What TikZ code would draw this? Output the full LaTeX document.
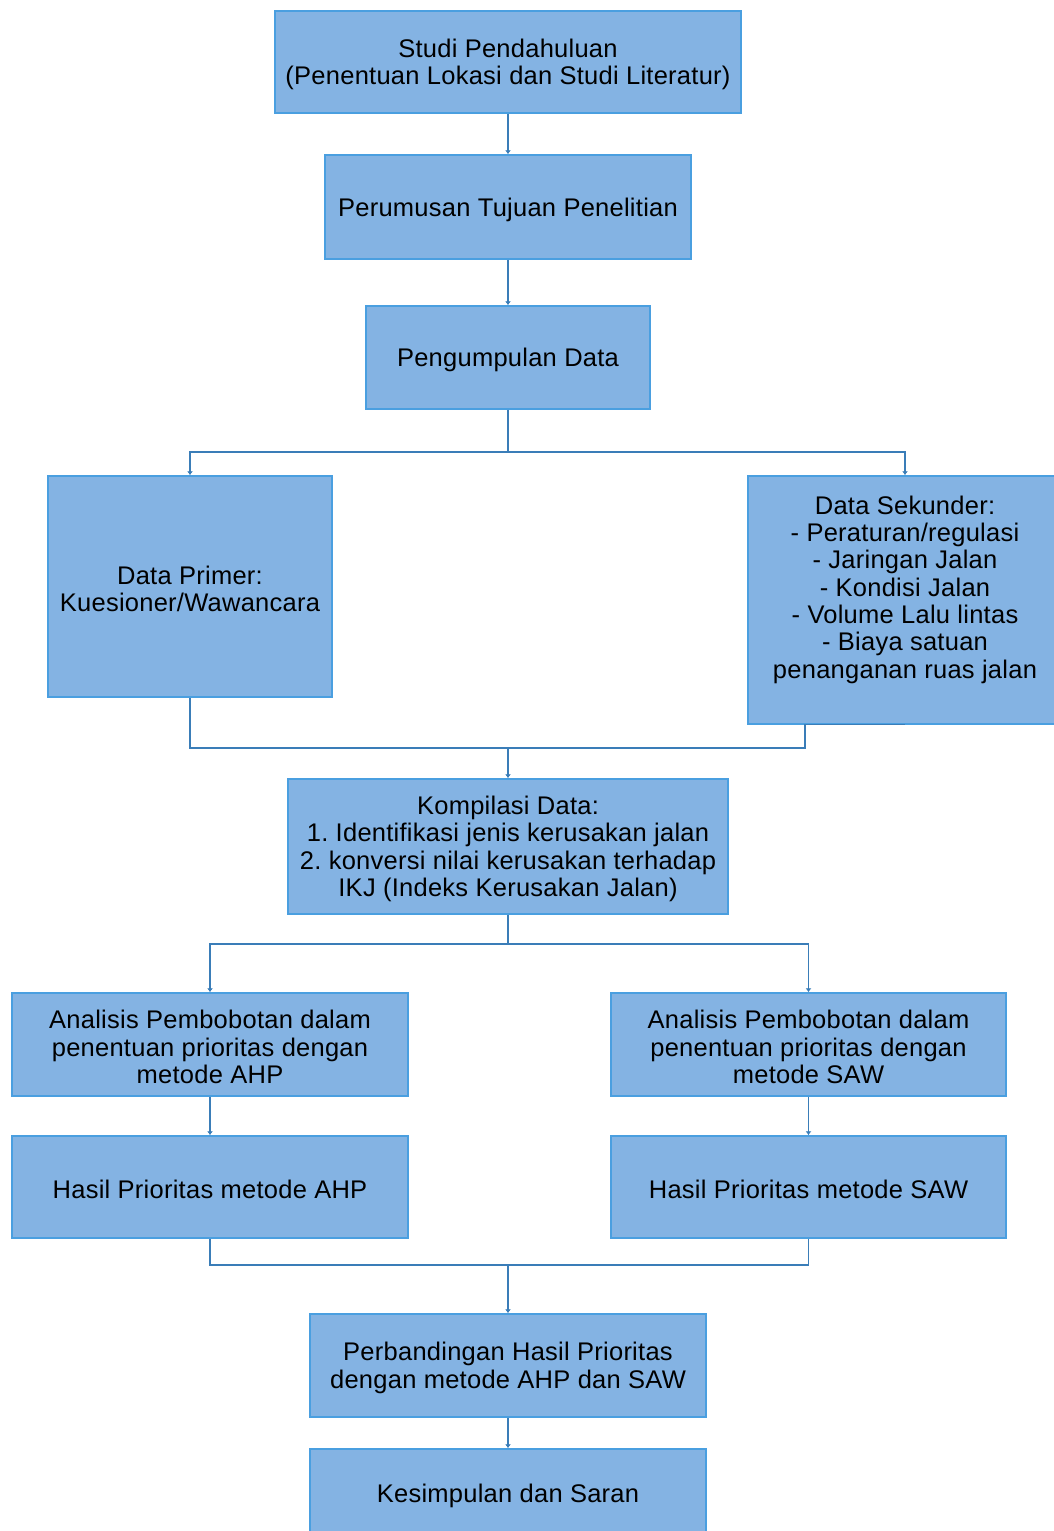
\documentclass[tikz,border=0pt]{standalone}
\usepackage{fontspec}
\setmainfont[LetterSpace=1]{Liberation Sans}
\frenchspacing
\usetikzlibrary{arrows.meta}
\definecolor{boxfill}{HTML}{84B3E3}
\definecolor{boxline}{HTML}{4A9FE0}
\definecolor{conncol}{HTML}{3A7DB8}
\newcommand{\tstrut}{\rule{0pt}{23.5pt}}
\tikzset{
  boxtext/.style={align=center, inner sep=0pt, font=\fontsize{25.5}{27.3}\selectfont},
  box/.style={boxtext, draw=boxline, line width=1.5pt, fill=boxfill},
  link/.style={draw=conncol, line width=1.3pt},
  arrowlink/.style={link, -{Latex[length=4pt,width=6pt]}}
}
\begin{document}
\begin{tikzpicture}[x=1pt,y=-1pt]
\useasboundingbox (0,0) rectangle (1053,1531);
\node[box, minimum width=466pt, minimum height=102pt] (studi) at (508,62) {\tstrut Studi Pendahuluan\\(Penentuan Lokasi dan Studi Literatur)};
\node[box, minimum width=366pt, minimum height=104pt] (rumus) at (508,207) {\tstrut Perumusan Tujuan Penelitian};
\node[box, minimum width=284pt, minimum height=103pt] (kumpul) at (508,357.5) {\tstrut Pengumpulan Data};
\node[box, minimum width=284pt, minimum height=221pt] (primer) at (190,586.5) {\tstrut Data Primer:\\Kuesioner/Wawancara};
\node[box, minimum width=314pt, minimum height=248pt] (sekunder) at (905,600) {};
\node[boxtext] (sekundertext) at (905,587) {\tstrut Data Sekunder:\\- Peraturan/regulasi\\- Jaringan Jalan\\- Kondisi Jalan\\- Volume Lalu lintas\\- Biaya satuan\\penanganan ruas jalan};
\node[box, minimum width=440pt, minimum height=135pt] (kompilasi) at (508,846.5) {\tstrut Kompilasi Data:\\1. Identifikasi jenis kerusakan jalan\\2. konversi nilai kerusakan terhadap\\IKJ (Indeks Kerusakan Jalan)};
\node[box, minimum width=396pt, minimum height=103pt] (ahp) at (210,1044.5) {\tstrut Analisis Pembobotan dalam\\penentuan prioritas dengan\\metode AHP};
\node[box, minimum width=395pt, minimum height=103pt] (saw) at (808.5,1044.5) {\tstrut Analisis Pembobotan dalam\\penentuan prioritas dengan\\metode SAW};
\node[box, minimum width=396pt, minimum height=102pt] (hahp) at (210,1187) {\tstrut Hasil Prioritas metode AHP};
\node[box, minimum width=395pt, minimum height=102pt] (hsaw) at (808.5,1187) {\tstrut Hasil Prioritas metode SAW};
\node[box, minimum width=396pt, minimum height=103pt] (banding) at (508,1365.5) {\tstrut Perbandingan Hasil Prioritas\\dengan metode AHP dan SAW};
\node[box, minimum width=396pt, minimum height=88pt] (simpul) at (508,1493) {\tstrut Kesimpulan dan Saran};
\coordinate (splitA) at (508,452);
\coordinate (joinA) at (508,748);
\coordinate (sekx) at (805,748);
\coordinate (splitB) at (508,944);
\coordinate (joinB) at (508,1265);
\draw[arrowlink] (studi) -- (rumus);
\draw[arrowlink] (rumus) -- (kumpul);
\draw[link] (kumpul.south) -- (splitA);
\draw[arrowlink] (splitA) -| (primer.north);
\draw[arrowlink] (splitA) -| (sekunder.north);
\draw[link] (primer.south) |- (joinA) -- (sekx) -- (sekunder.south -| sekx) -- (sekunder.south);
\draw[arrowlink] (joinA) -- (kompilasi.north);
\draw[link] (kompilasi.south) -- (splitB);
\draw[arrowlink] (splitB) -| (ahp.north);
\draw[arrowlink] (splitB) -| (saw.north);
\draw[arrowlink] (ahp) -- (hahp);
\draw[arrowlink] (saw) -- (hsaw);
\draw[link] (hahp.south) |- (joinB) -| (hsaw.south);
\draw[arrowlink] (joinB) -- (banding.north);
\draw[arrowlink] (banding) -- (simpul);
\end{tikzpicture}
\end{document}
